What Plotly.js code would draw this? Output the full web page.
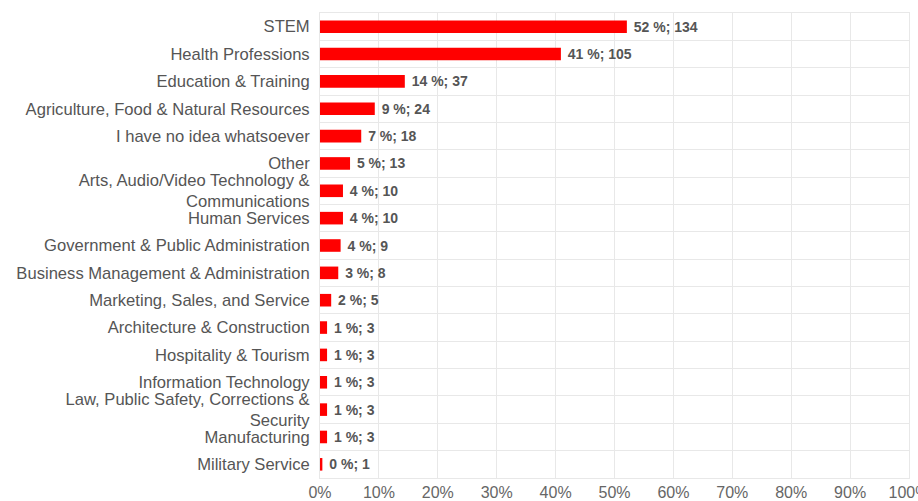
<!DOCTYPE html>
<html>
<head>
<meta charset="utf-8">
<script src="https://cdn.plot.ly/plotly-3.0.1.min.js"></script>
<style>html,body{margin:0;padding:0;background:#fff;}#chart{width:918px;height:501px;}</style>
</head>
<body>
<div id="chart"></div>
<script>
const categories = [
  "STEM",
  "Health Professions",
  "Education & Training",
  "Agriculture, Food & Natural Resources",
  "I have no idea whatsoever",
  "Other",
  "Arts, Audio/Video Technology &<br>Communications",
  "Human Services",
  "Government & Public Administration",
  "Business Management & Administration",
  "Marketing, Sales, and Service",
  "Architecture & Construction",
  "Hospitality & Tourism",
  "Information Technology",
  "Law, Public Safety, Corrections &<br>Security",
  "Manufacturing",
  "Military Service"
];
const percents = [52.1, 40.9, 14.4, 9.3, 7.0, 5.1, 3.9, 3.9, 3.5, 3.1, 1.9, 1.2, 1.2, 1.2, 1.2, 1.2, 0.4];
const percentLabels = [52, 41, 14, 9, 7, 5, 4, 4, 4, 3, 2, 1, 1, 1, 1, 1, 0];
const counts = [134, 105, 37, 24, 18, 13, 10, 10, 9, 8, 5, 3, 3, 3, 3, 3, 1];
const xTicks = [0, 10, 20, 30, 40, 50, 60, 70, 80, 90, 100];

const labels = percentLabels.map((p, i) => "\u00a0" + p + " %; " + counts[i]);

const trace = {
  type: "bar",
  orientation: "h",
  x: percents,
  y: categories,
  text: labels,
  textposition: "outside",
  constraintext: "none",
  cliponaxis: false,
  textfont: {family: "Liberation Sans, Arial, sans-serif", size: 14, color: "#555555", weight: "bold"},
  marker: {color: "#ff0000"},
  width: 0.46,
  hoverinfo: "none"
};

const layout = {
  width: 918,
  height: 501,
  margin: {l: 320, r: 9, t: 13, b: 23},
  paper_bgcolor: "#ffffff",
  plot_bgcolor: "#ffffff",
  showlegend: false,
  font: {family: "Liberation Sans, Arial, sans-serif", size: 16, color: "#555555"},
  xaxis: {
    range: [0, 100],
    tickvals: xTicks,
    ticktext: xTicks.map(v => v + "%"),
    showgrid: true,
    gridcolor: "#e8e8e8",
    gridwidth: 1,
    zeroline: false,
    showline: true,
    mirror: true,
    linecolor: "#e8e8e8",
    linewidth: 1,
    ticks: "",
    ticklabeloverflow: "allow",
    tickfont: {size: 16, color: "#666666"},
    automargin: false,
    fixedrange: true
  },
  yaxis: {
    type: "category",
    autorange: "reversed",
    tickson: "boundaries",
    showgrid: true,
    gridcolor: "#e8e8e8",
    gridwidth: 1,
    zeroline: false,
    showline: true,
    mirror: true,
    linecolor: "#e8e8e8",
    linewidth: 1,
    ticks: "",
    ticklabelstandoff: 6,
    tickfont: {size: 16.6, color: "#555555"},
    automargin: false,
    fixedrange: true
  }
};

Plotly.newPlot("chart", [trace], layout, {displayModeBar: false, staticPlot: true});
</script>
</body>
</html>
